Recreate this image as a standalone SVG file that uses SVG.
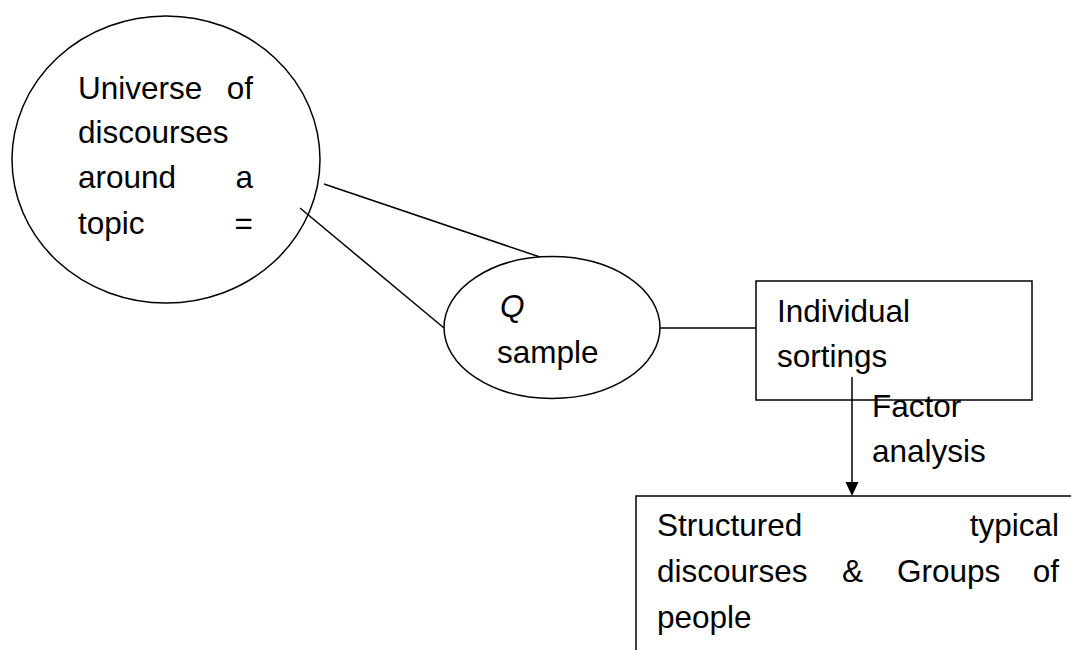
<svg xmlns="http://www.w3.org/2000/svg" width="1071" height="650" viewBox="0 0 1071 650">
<style>
.s{fill:none;stroke:#000;stroke-width:1.5}
.t{font-family:"Liberation Sans",Arial,sans-serif;font-size:31.5px;fill:#000}
.e{text-anchor:end}
</style>
<rect width="1071" height="650" fill="#fff"/>
<g id="connectors">
<line class="s" x1="324" y1="184" x2="540" y2="257"/>
<line class="s" x1="300" y1="208" x2="444" y2="328"/>
<line class="s" x1="660" y1="328" x2="756" y2="328"/>
<line class="s" x1="852" y1="377" x2="852" y2="484"/>
<polygon points="845.5,482 858.5,482 852,496" fill="#000"/>
</g>
<g id="universe">
<ellipse class="s" cx="166" cy="159.5" rx="154" ry="143.5"/>
<text class="t" x="78" y="99">Universe</text><text class="t e" x="253" y="99">of</text>
<text class="t" x="78" y="143">discourses</text>
<text class="t" x="78" y="188">around</text><text class="t e" x="253" y="188">a</text>
<text class="t" x="78" y="234">topic</text><text class="t e" x="253" y="234">=</text>
</g>
<g id="qsample">
<ellipse class="s" cx="552" cy="327.5" rx="108" ry="71"/>
<text class="t" x="500" y="317" font-style="italic">Q</text>
<text class="t" x="497" y="363">sample</text>
</g>
<g id="sortings">
<rect class="s" x="756" y="281" width="276" height="119"/>
<text class="t" x="777" y="322">Individual</text>
<text class="t" x="777" y="367">sortings</text>
</g>
<g id="factor-label">
<text class="t" x="872" y="417">Factor</text>
<text class="t" x="872" y="462">analysis</text>
</g>
<g id="structured">
<rect class="s" x="636" y="496" width="460" height="200"/>
<text class="t" x="657" y="536">Structured</text><text class="t e" x="1059" y="536">typical</text>
<text class="t" x="657" y="582">discourses</text><text class="t" x="842" y="582">&amp;</text><text class="t" x="897" y="582">Groups</text><text class="t e" x="1059" y="582">of</text>
<text class="t" x="657" y="628">people</text>
</g>
</svg>
